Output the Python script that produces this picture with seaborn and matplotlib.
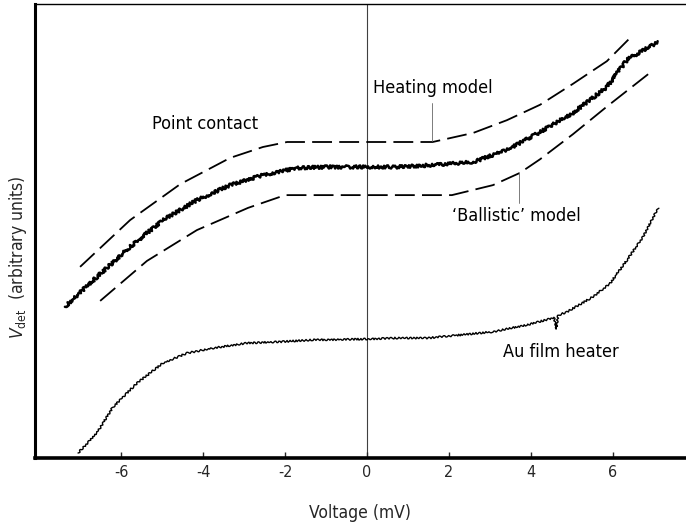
import matplotlib
matplotlib.use("Agg")
import matplotlib.pyplot as plt
from matplotlib import font_manager
import pandas as pd
import seaborn as sns

# Point-contact detector signal (measured trace)
pc_voltage = [-7.37, -6.59, -5.78, -4.98, -4.15, -3.34, -2.54, -1.71, -0.90, 0.00,
              0.73, 1.54, 2.59, 3.41, 4.22, 5.02, 5.85, 6.34, 6.66, 7.10]
pc_signal = [33.3, 39.9, 46.5, 52.4, 56.8, 60.1, 62.3, 63.9, 64.1, 64.1,
             64.1, 64.5, 65.2, 67.8, 71.8, 76.0, 81.7, 87.7, 89.4, 91.6]

# Heating model prediction (upper dashed curve)
heat_voltage = [-7.00, -5.78, -4.56, -3.34, -2.54, -1.95, -0.90, 1.60,
                2.59, 3.41, 4.22, 5.02, 5.85, 6.49]
heat_signal = [42.1, 52.4, 60.3, 66.1, 68.5, 69.6, 69.6, 69.6,
               71.6, 74.4, 77.8, 82.4, 87.4, 93.2]

# 'Ballistic' model prediction (lower dashed curve)
ball_voltage = [-6.51, -5.37, -4.15, -2.90, -2.00, 2.07, 3.07, 3.73,
                4.22, 5.02, 5.85, 6.95]
ball_signal = [34.6, 43.4, 50.2, 55.1, 57.9, 57.9, 60.1, 62.8,
               65.8, 71.3, 77.4, 85.2]

# Au film heater detector signal (measured trace)
au_voltage = [-7.05, -6.59, -6.20, -5.61, -4.98, -4.39, -3.76, -2.93, -2.12, -1.32,
              0.00, 0.63, 1.46, 2.27, 3.07, 3.90, 4.56, 4.62, 4.66, 4.88,
              5.51, 5.93, 6.34, 6.73, 7.10]
au_signal = [1.1, 5.5, 11.2, 16.5, 20.9, 23.1, 24.2, 25.3, 25.6, 26.0,
             26.2, 26.4, 26.4, 27.1, 27.8, 29.3, 30.9, 28.4, 31.4, 32.2,
             35.5, 38.5, 43.6, 48.7, 55.1]

x_ticks = [-6, -4, -2, 0, 2, 4, 6]
x_tick_labels = ["-6", "-4", "-2", "0", "2", "4", "6"]

sns.set_style("white")

# a narrow sans face suits the drafting-style lettering; fall back gracefully
installed = font_manager.fontManager.ttflist
names = {f.name for f in installed}
text_scale = 1.0
if "Liberation Sans Narrow" in names:
    plt.rcParams["font.family"] = ["Liberation Sans Narrow", "DejaVu Sans"]
elif any(f.name == "DejaVu Sans" and str(f.stretch) not in ("normal", "500") for f in installed):
    plt.rcParams["font.family"] = ["DejaVu Sans"]
    plt.rcParams["font.stretch"] = "condensed"
else:
    plt.rcParams["font.family"] = ["DejaVu Sans"]
    text_scale = 0.85
plt.rcParams["axes.unicode_minus"] = False

fig = plt.figure(figsize=(6.86, 5.31), dpi=100)
ax = fig.add_axes([0.051, 0.1375, 0.949, 0.855])

pc = pd.DataFrame({"voltage": pc_voltage, "signal": pc_signal})
heat = pd.DataFrame({"voltage": heat_voltage, "signal": heat_signal})
ball = pd.DataFrame({"voltage": ball_voltage, "signal": ball_signal})
au = pd.DataFrame({"voltage": au_voltage, "signal": au_signal})

model_style = dict(color="black", lw=1.3, linestyle=(0, (11, 4.0)))
sns.lineplot(data=heat, x="voltage", y="signal", ax=ax, estimator=None, sort=False, **model_style)
sns.lineplot(data=ball, x="voltage", y="signal", ax=ax, estimator=None, sort=False, **model_style)

sns.lineplot(data=pc, x="voltage", y="signal", ax=ax, estimator=None, sort=False,
             color="black", lw=1.8)
ax.lines[-1].set_sketch_params(1.6, 2.5, 3)

sns.lineplot(data=au, x="voltage", y="signal", ax=ax, estimator=None, sort=False,
             color="black", lw=1.0)
ax.lines[-1].set_sketch_params(0.9, 4, 2)

# zero-bias marker
ax.axvline(0, color="0.25", lw=0.8, zorder=0)

# leader lines to the model curves
ax.plot([1.59, 1.59], [69.9, 78.2], color="0.4", lw=0.6)
ax.plot([3.71, 3.71], [56.2, 63.0], color="0.4", lw=0.6)

label_kw = dict(fontsize=13 * text_scale, color="black", va="center", ha="left")
ax.text(-5.24, 73.6, "Point contact", **label_kw)
ax.text(0.15, 81.5, "Heating model", **label_kw)
ax.text(2.07, 53.3, "\u2018Ballistic\u2019 model", **label_kw)
ax.text(3.32, 23.3, "Au film heater", **label_kw)

ax.set_xlim(-8.1, 7.78)
ax.set_ylim(0, 100)
ax.set_xticks(x_ticks)
ax.set_xticklabels(x_tick_labels)
ax.set_yticks([])
ax.tick_params(axis="x", direction="in", length=4, width=1, pad=5,
               labelsize=11.5 * text_scale, bottom=True, top=False)

ax.set_xlabel("Voltage (mV)", fontsize=12.5 * text_scale, labelpad=17)
ax.set_ylabel(r"$V_{\mathrm{det}}$  (arbitrary units)", fontsize=12.5 * text_scale)
ax.yaxis.set_label_coords(-0.026, 0.443)
ax.yaxis.label.set_verticalalignment("center")

for side in ("left", "bottom", "top", "right"):
    ax.spines[side].set_color("black")
ax.spines["left"].set_linewidth(2.2)
ax.spines["bottom"].set_linewidth(2.6)
ax.spines["top"].set_linewidth(1.0)
ax.spines["right"].set_visible(False)

fig.savefig("out.png", dpi=100)
